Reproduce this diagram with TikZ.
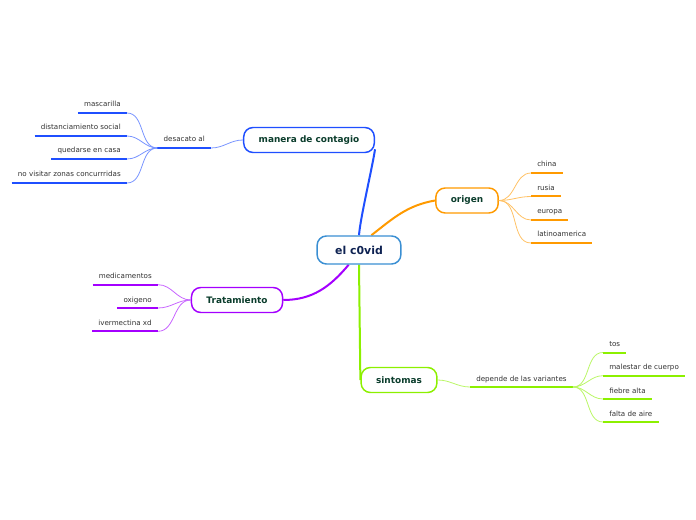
\documentclass[tikz,border=0pt]{standalone}
\usepackage{fontspec}
\setmainfont{DejaVu Sans}
\usetikzlibrary{backgrounds}
\definecolor{cblue}{HTML}{1F4FFF}
\definecolor{corange}{HTML}{FF9A00}
\definecolor{cpurple}{HTML}{A400FF}
\definecolor{cgreen}{HTML}{8CF000}
\definecolor{ccenter}{HTML}{3A8FD3}
\definecolor{ctitle}{HTML}{0E2252}
\definecolor{cnode}{HTML}{0B3D2C}
\definecolor{cleaf}{HTML}{333333}

\begin{document}
\begin{tikzpicture}[x=0.75pt, y=-0.75pt,
  topic/.style={draw, fill=white, rounded corners=7pt, line width=1.1pt, inner xsep=11.25pt, minimum height=18.75pt, font=\fontsize{6.7}{8}\selectfont\bfseries, text=cnode},
  leaf/.style={inner xsep=4.5pt, inner ysep=4.3pt, text height=4pt, text depth=0pt, font=\fontsize{5.35}{6.5}\selectfont, text=cleaf},
  trunk/.style={line width=1.5pt},
  twig/.style={line width=0.6pt},
  uline/.style={line width=1.5pt}]
  \useasboundingbox (0,0) rectangle (696,520);

  \node[topic, draw=ccenter, text=ctitle, font=\fontsize{8.2}{10}\selectfont\bfseries, inner xsep=13.5pt, minimum height=21pt] (c0vid) at (359,250) {el c0vid};
  \node[topic, draw=cblue] (manera) at (309,140) {manera de contagio};
  \node[topic, draw=corange] (origen) at (467,200.5) {origen};
  \node[topic, draw=cpurple] (trat) at (237,300) {Tratamiento};
  \node[topic, draw=cgreen] (sintomas) at (399,380) {sintomas};

  \node[leaf, anchor=south east] (desacato) at (211,148) {desacato al};
  \node[leaf, anchor=south west] (depende) at (470,387) {depende de las variantes};
  \draw[uline, cblue] (desacato.south west) -- (desacato.south east);
  \draw[uline, cgreen] (depende.south west) -- (depende.south east);

  \begin{scope}[on background layer]
    \draw[trunk, cblue] (c0vid.north) to[out=86,in=-98,looseness=0.5] (manera.-8);
    \draw[trunk, corange] (c0vid.50) to[out=38,in=190] (origen.west);
    \draw[trunk, cpurple] (c0vid.-125) to[out=-130,in=0] (trat.east);
    \draw[trunk, cgreen] (c0vid.south) -- (sintomas.west);
    \draw[twig, cblue!60] (manera.west) to[out=180,in=0] (desacato.south east);
    \draw[twig, cgreen!60] (sintomas.east) to[out=0,in=180] (depende.south west);
  \end{scope}

  % hojas
  \foreach \y/\t [count=\i] in {113/mascarilla, 136/distanciamiento social, 159/quedarse en casa, 183/no visitar zonas concurrridas} {
    \node[leaf, anchor=south east] (m\i) at (127,\y) {\t};
    \draw[twig, cblue!60] (desacato.south west) to[out=180,in=0] (m\i.south east);
    \draw[uline, cblue] (m\i.south west) -- (m\i.south east);
  }
  \foreach \y/\t [count=\i] in {173/china, 196.5/rusia, 220/europa, 243/latinoamerica} {
    \node[leaf, anchor=south west] (o\i) at (531,\y) {\t};
    \draw[twig, corange!60] (origen.east) to[out=0,in=180] (o\i.south west);
    \draw[uline, corange] (o\i.south west) -- (o\i.south east);
  }
  \foreach \y/\t [count=\i] in {284.7/medicamentos, 308/oxigeno, 331.3/ivermectina xd} {
    \node[leaf, anchor=south east] (t\i) at (158,\y) {\t};
    \draw[twig, cpurple!60] (trat.west) to[out=180,in=0] (t\i.south east);
    \draw[uline, cpurple] (t\i.south west) -- (t\i.south east);
  }
  \foreach \y/\t [count=\i] in {352.5/tos, 375.7/malestar de cuerpo, 399/fiebre alta, 422/falta de aire} {
    \node[leaf, anchor=south west] (s\i) at (603,\y) {\t};
    \draw[twig, cgreen!60] (depende.south east) to[out=0,in=180] (s\i.south west);
    \draw[uline, cgreen] (s\i.south west) -- (s\i.south east);
  }
\end{tikzpicture}
\end{document}
